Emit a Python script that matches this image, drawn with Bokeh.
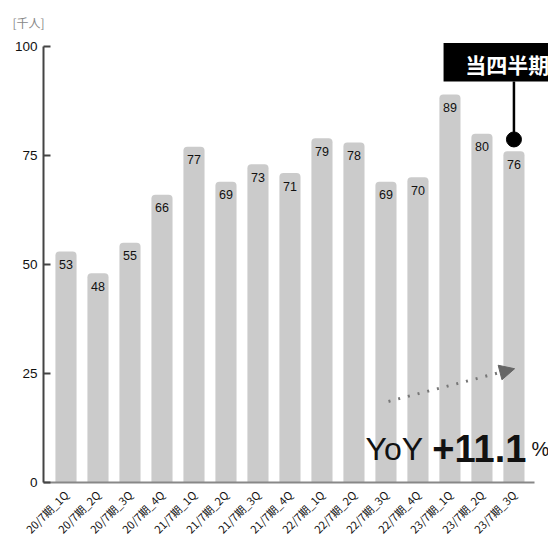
from bokeh.plotting import figure
from bokeh.models import Range1d, FixedTicker, Arrow, NormalHead, Title, ColumnDataSource
from bokeh.core.properties import value
from bokeh.embed import file_html
from bokeh.resources import INLINE
import math

categories = ["20/7期_1Q", "20/7期_2Q", "20/7期_3Q", "20/7期_4Q",
              "21/7期_1Q", "21/7期_2Q", "21/7期_3Q", "21/7期_4Q",
              "22/7期_1Q", "22/7期_2Q", "22/7期_3Q", "22/7期_4Q",
              "23/7期_1Q", "23/7期_2Q", "23/7期_3Q"]
values = [53, 48, 55, 66, 77, 69, 73, 71, 79, 78, 69, 70, 89, 80, 76]
y_ticks = [0, 25, 50, 75, 100]
unit_label = "[千人]"
current_label = "当四半期"
yoy_text = "YoY"
yoy_value = "+11.1"
yoy_unit = "%"

FONT = "Liberation Sans, Noto Sans CJK JP"
CJK = "Noto Sans CJK JP"

n = len(values)
xs = list(range(n))
x0, x1 = -0.703, 15.08
y0, y1 = 0, 101.4

p = figure(width=548, height=548, output_backend="svg", toolbar_location=None,
           x_range=Range1d(x0, x1), y_range=Range1d(y0, y1),
           min_border_left=43, min_border_right=0, min_border_top=40, min_border_bottom=66)
p.outline_line_color = None
p.xgrid.visible = False
p.ygrid.visible = False
p.background_fill_color = "white"
p.border_fill_color = "white"

t = Title(text=unit_label, align="left", offset=-31, standoff=20,
          text_font=CJK, text_font_size="12px", text_color="#888", text_font_style="normal")
p.add_layout(t, "above")

src = ColumnDataSource(dict(x=xs, top=values, label=[str(v) for v in values]))
p.vbar(x="x", top="top", width=0.66, bottom=0, source=src, fill_color="#cbcbcb",
       line_color=None, border_radius=(4, 4, 0, 0))
p.text(x="x", y="top", text="label", source=src, y_offset=13, text_align="center",
       text_baseline="middle", text_font=value(FONT), text_font_size="12.5px", text_color="#111")

# y axis
ya = p.yaxis[0]
ya.ticker = FixedTicker(ticks=y_ticks)
ya.bounds = (0, 100)
ya.axis_line_color = "#444"
ya.axis_line_width = 2
ya.major_tick_line_color = "#444"
ya.major_tick_line_width = 2
ya.major_tick_in = 7
ya.major_tick_out = 0
ya.minor_tick_line_color = None
ya.major_label_standoff = 6
ya.major_label_text_font = FONT
ya.major_label_text_font_size = "13.5px"
ya.major_label_text_color = "#111"

# x axis
xa = p.xaxis[0]
xa.ticker = FixedTicker(ticks=xs)
xa.major_label_overrides = {i: c for i, c in enumerate(categories)}
xa.bounds = (x0, 14.64)
xa.axis_line_color = "#888"
xa.axis_line_width = 2
xa.major_tick_line_color = None
xa.minor_tick_line_color = None
xa.major_label_orientation = math.pi / 4
xa.major_label_standoff = 4
xa.major_label_text_font = CJK
xa.major_label_text_font_size = "11px"
xa.major_label_text_color = "#111"

# current quarter marker
cx, cy = xs[-1], values[-1]
p.quad(left=[11.80], right=[16.0], bottom=[92.0], top=[100.8], fill_color="black", line_color=None)
p.text(x=[12.48], y=[96.0], text=[current_label], text_color="white", text_font=value(CJK),
       text_font_style="bold", text_font_size="21px", text_baseline="middle")
p.segment(x0=[cx], y0=[cy + 2.7], x1=[cx], y1=[92.0], line_color="black", line_width=2.5)
p.scatter(x=[cx], y=[cy + 2.7], size=15, fill_color="black", line_color="black")

# YoY arrow
p.add_layout(Arrow(end=NormalHead(size=15, fill_color="#666", line_color="#666"),
                   x_start=10.08, y_start=18.6, x_end=14.02, y_end=26.1,
                   line_color="#777", line_width=3, line_dash="2 8"))

p.text(x=[9.36], y=[7.8], text=[yoy_text], text_font=value(FONT), text_font_size="32px",
       text_color="#111", text_baseline="alphabetic")
p.text(x=[11.45], y=[7.8], text=[yoy_value], text_font=value(FONT), text_font_size="38px",
       text_font_style="bold", text_color="#111", text_baseline="alphabetic")
p.text(x=[14.55], y=[7.8], text=[yoy_unit], text_font=value(FONT), text_font_size="20px",
       text_color="#111", text_baseline="alphabetic")

open("out.html", "w").write(file_html(p, INLINE))
